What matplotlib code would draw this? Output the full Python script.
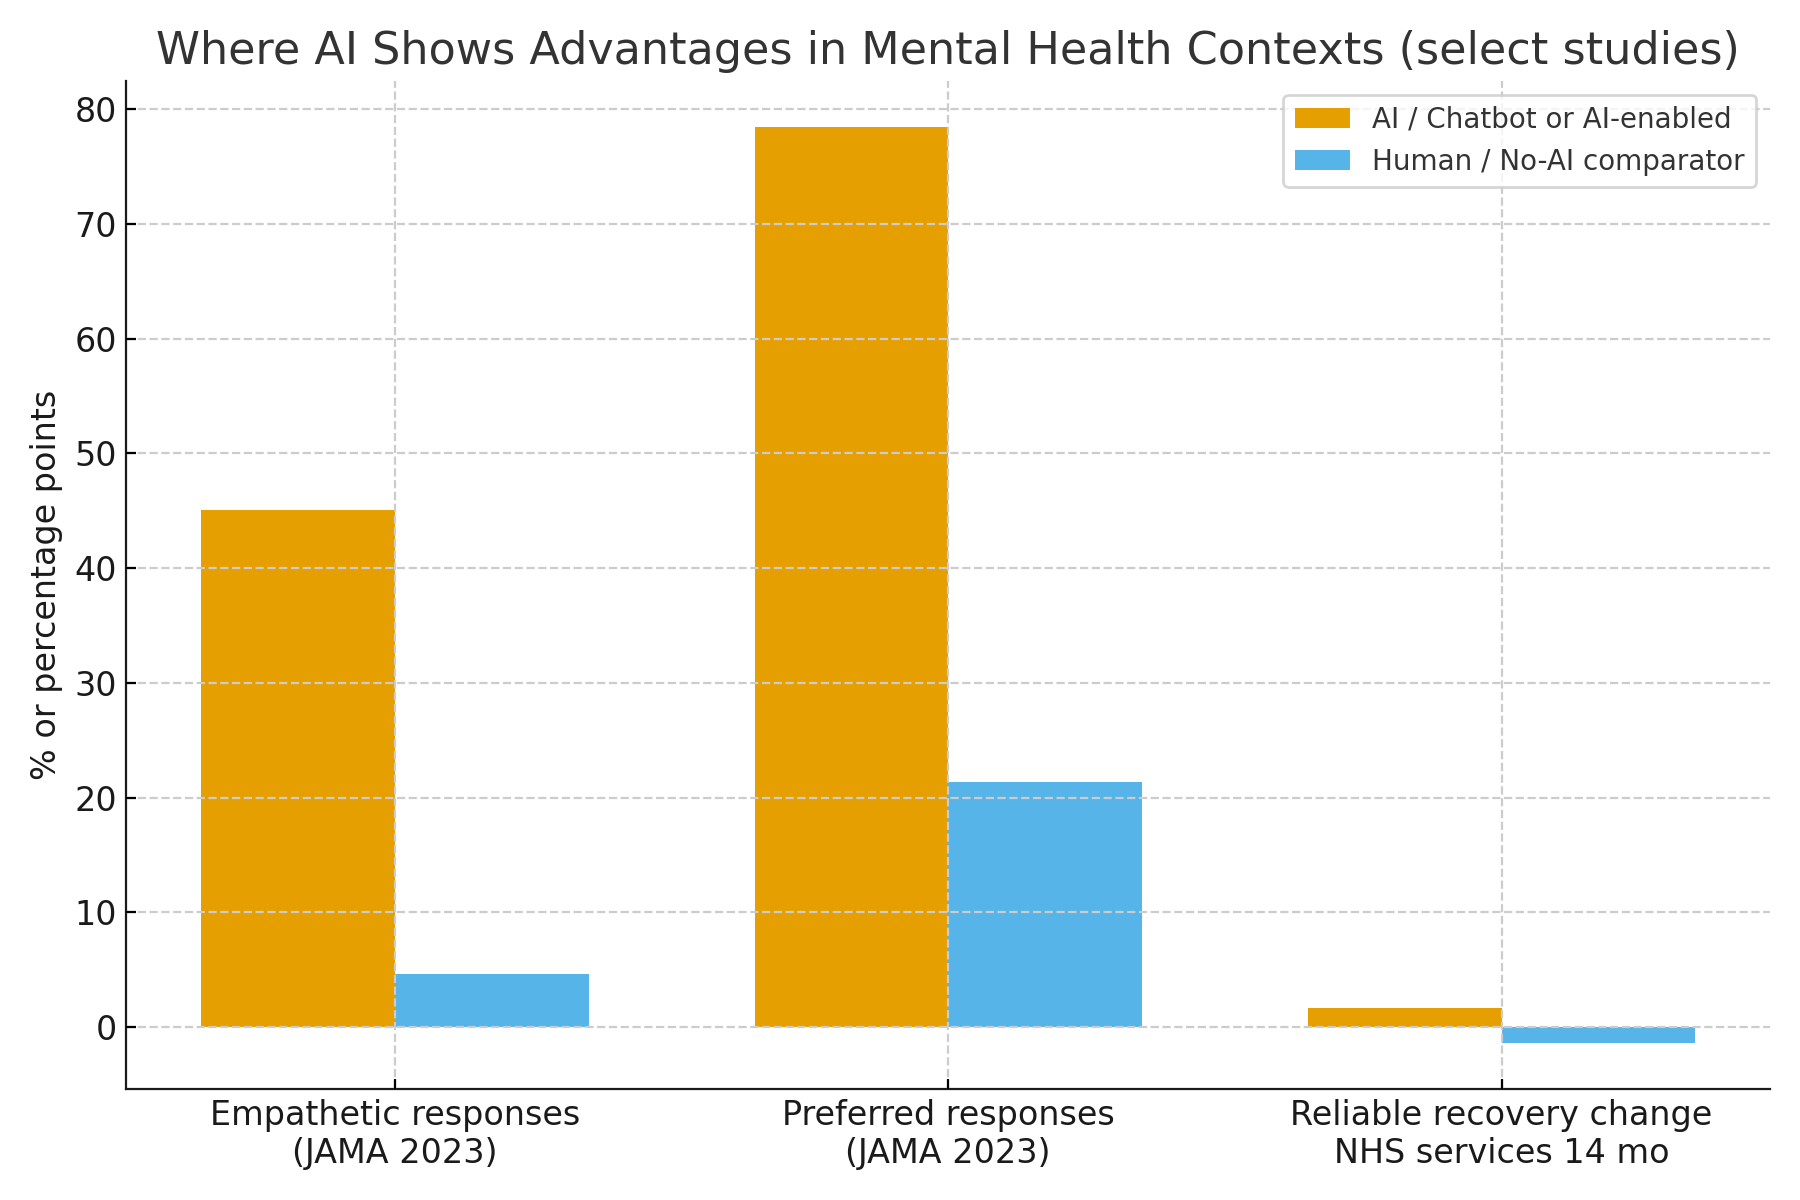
import matplotlib
matplotlib.use("Agg")
import matplotlib.pyplot as plt
import numpy as np

categories = ["Empathetic responses\n(JAMA 2023)", "Preferred responses\n(JAMA 2023)",
              "Reliable recovery change\nNHS services 14 mo"]
ai_values = [45.1, 78.5, 1.7]
human_values = [4.6, 21.4, -1.4]
series_labels = ["AI / Chatbot or AI-enabled", "Human / No-AI comparator"]

fig, ax = plt.subplots(figsize=(9, 6), dpi=200)
x = np.arange(len(categories))
w = 0.35
ax.bar(x - w/2, ai_values, w, color="#E69F00", label=series_labels[0], zorder=1)
ax.bar(x + w/2, human_values, w, color="#56B4E9", label=series_labels[1], zorder=1)

ax.set_xticks(x)
ax.set_xticklabels(categories, fontsize=12, color="#1a1a1a")
ax.tick_params(axis="both", direction="in")
ax.tick_params(axis="y", labelsize=12, labelcolor="#1a1a1a")
ax.set_ylabel("% or percentage points", fontsize=12, color="#1a1a1a")
ax.set_title("Where AI Shows Advantages in Mental Health Contexts (select studies)",
             fontsize=16, color="#333333")
ax.grid(True, linestyle="--", color="#cccccc", linewidth=0.8, zorder=0)
ax.set_axisbelow(False)
for s in ["top", "right"]:
    ax.spines[s].set_visible(False)
for s in ["left", "bottom"]:
    ax.spines[s].set_color("#1a1a1a")
leg = ax.legend(fontsize=10, frameon=True, edgecolor="#cccccc", labelcolor="#333333")
fig.tight_layout()
fig.savefig("out.png", dpi=200)
